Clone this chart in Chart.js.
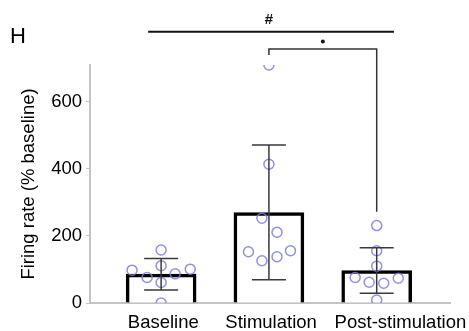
<!DOCTYPE html>
<html><head><meta charset="utf-8">
<script src="https://cdn.jsdelivr.net/npm/chart.js@4/dist/chart.umd.min.js"></script>
<style>html,body{margin:0;padding:0;background:#fff}#wrap{width:469px;height:331px}</style>
</head><body><div id="wrap"><canvas id="c" width="469" height="331"></canvas></div>
<script>
const categories = ['Baseline', 'Stimulation', 'Post-stimulation'];
const means = [86, 270, 97];
const sds = [47, 201, 68];
const baselinePts = [158, 98, 101, 111, 76, 87, 61, 0];
const stimulationPts = [710, 414, 253, 211, 153, 156, 126, 138];
const postPts = [231, 156, 110, 76, 62, 59, 74, 9];
const baselineJitter = [0, -0.27, 0.27, 0, -0.13, 0.13, 0, 0];
const stimulationJitter = [0, 0, -0.065, 0.075, -0.19, 0.2, -0.065, 0.075];
const postJitter = [0, 0, 0, -0.2, -0.07, 0.065, 0.2, 0];
const yTicks = [0, 200, 400, 600];

const FONT = 'Liberation Sans, Arial, sans-serif';
const labelAt = [0.02, 1.02, 2.22];
const pts = [];
[[baselinePts, baselineJitter], [stimulationPts, stimulationJitter], [postPts, postJitter]].forEach(([vals, jit], i) => {
  vals.forEach((v, k) => pts.push({x: i + jit[k], y: v}));
});

const extras = {
  id: 'extras',
  afterDatasetsDraw(chart) {
    const ctx = chart.ctx, x = chart.scales.x, y = chart.scales.y;
    ctx.save();
    // error bars
    ctx.strokeStyle = '#3a3a3a';
    ctx.lineWidth = 1.5;
    means.forEach((m, i) => {
      const cx = x.getPixelForValue(i);
      const top = y.getPixelForValue(m + sds[i]);
      const bot = y.getPixelForValue(m - sds[i]);
      ctx.beginPath();
      ctx.moveTo(cx, top); ctx.lineTo(cx, bot);
      ctx.moveTo(cx - 17, top); ctx.lineTo(cx + 17, top);
      ctx.moveTo(cx - 17, bot); ctx.lineTo(cx + 17, bot);
      ctx.stroke();
    });
    // significance
    ctx.strokeStyle = '#111';
    ctx.lineWidth = 2;
    ctx.beginPath();
    ctx.moveTo(x.getPixelForValue(-0.12), y.getPixelForValue(809));
    ctx.lineTo(x.getPixelForValue(2.16), y.getPixelForValue(809));
    ctx.stroke();
    ctx.strokeStyle = '#333';
    ctx.lineWidth = 1.5;
    ctx.beginPath();
    ctx.moveTo(x.getPixelForValue(1), y.getPixelForValue(740));
    ctx.lineTo(x.getPixelForValue(1), y.getPixelForValue(758));
    ctx.lineTo(x.getPixelForValue(2), y.getPixelForValue(758));
    ctx.lineTo(x.getPixelForValue(2), y.getPixelForValue(272));
    ctx.stroke();
    ctx.fillStyle = '#111';
    ctx.textAlign = 'center';
    ctx.textBaseline = 'middle';
    ctx.font = 'bold 15px ' + FONT;
    ctx.fillText('#', x.getPixelForValue(1), y.getPixelForValue(845));
    ctx.beginPath();
    ctx.arc((x.getPixelForValue(1) + x.getPixelForValue(2)) / 2, y.getPixelForValue(780), 2, 0, Math.PI * 2);
    ctx.fill();
    ctx.font = '22px ' + FONT;
    ctx.textAlign = 'left';
    ctx.textBaseline = 'alphabetic';
    ctx.fillStyle = '#000';
    ctx.fillText('H', 10, 43);
    ctx.restore();
  }
};

new Chart(document.getElementById('c'), {
  type: 'bar',
  data: {
    datasets: [
      {
        type: 'scatter',
        data: pts,
        pointStyle: 'circle',
        pointRadius: 5,
        pointBorderWidth: 1.5,
        pointBorderColor: 'rgba(125,125,225,0.85)',
        pointBackgroundColor: 'rgba(255,255,255,0)',
        order: 0
      },
      {
        type: 'bar',
        data: means.map((m, i) => ({x: i, y: m})),
        backgroundColor: '#fff',
        borderColor: '#000',
        borderWidth: 3.5,
        barThickness: 70,
        order: 1
      }
    ]
  },
  plugins: [extras],
  options: {
    responsive: false,
    animation: false,
    events: [],
    layout: {padding: {left: 0, right: 19, top: 65, bottom: 0}},
    plugins: {legend: {display: false}, tooltip: {enabled: false}},
    scales: {
      x: {
        type: 'linear',
        offset: false,
        min: -0.66, max: 2.68,
        afterBuildTicks: s => { s.ticks = labelAt.map(v => ({value: v})); },
        afterFit: s => { s.height = 28; s.paddingLeft = 0; s.paddingRight = 0; },
        grid: {display: false},
        border: {display: true, color: '#c4c4c4', width: 2},
        ticks: {
          callback: (v, i) => categories[i],
          color: '#000', font: {family: FONT, size: 18.5}, padding: 1, maxRotation: 0, autoSkip: false
        }
      },
      y: {
        min: 0, max: 710,
        afterBuildTicks: s => { s.ticks = yTicks.map(v => ({value: v})); },
        afterFit: s => { s.width = 90; s.paddingTop = 0; s.paddingBottom = 0; },
        grid: {display: true, drawOnChartArea: false, tickLength: 4, color: '#c4c4c4', lineWidth: 1},
        border: {display: true, color: '#c4c4c4', width: 2},
        ticks: {color: '#000', font: {family: FONT, size: 18.5}, padding: 4},
        title: {display: true, text: 'Firing rate (% baseline)', color: '#000', font: {family: FONT, size: 18.5}, padding: {top: 18, bottom: 0}}
      }
    }
  }
});
</script></body></html>
